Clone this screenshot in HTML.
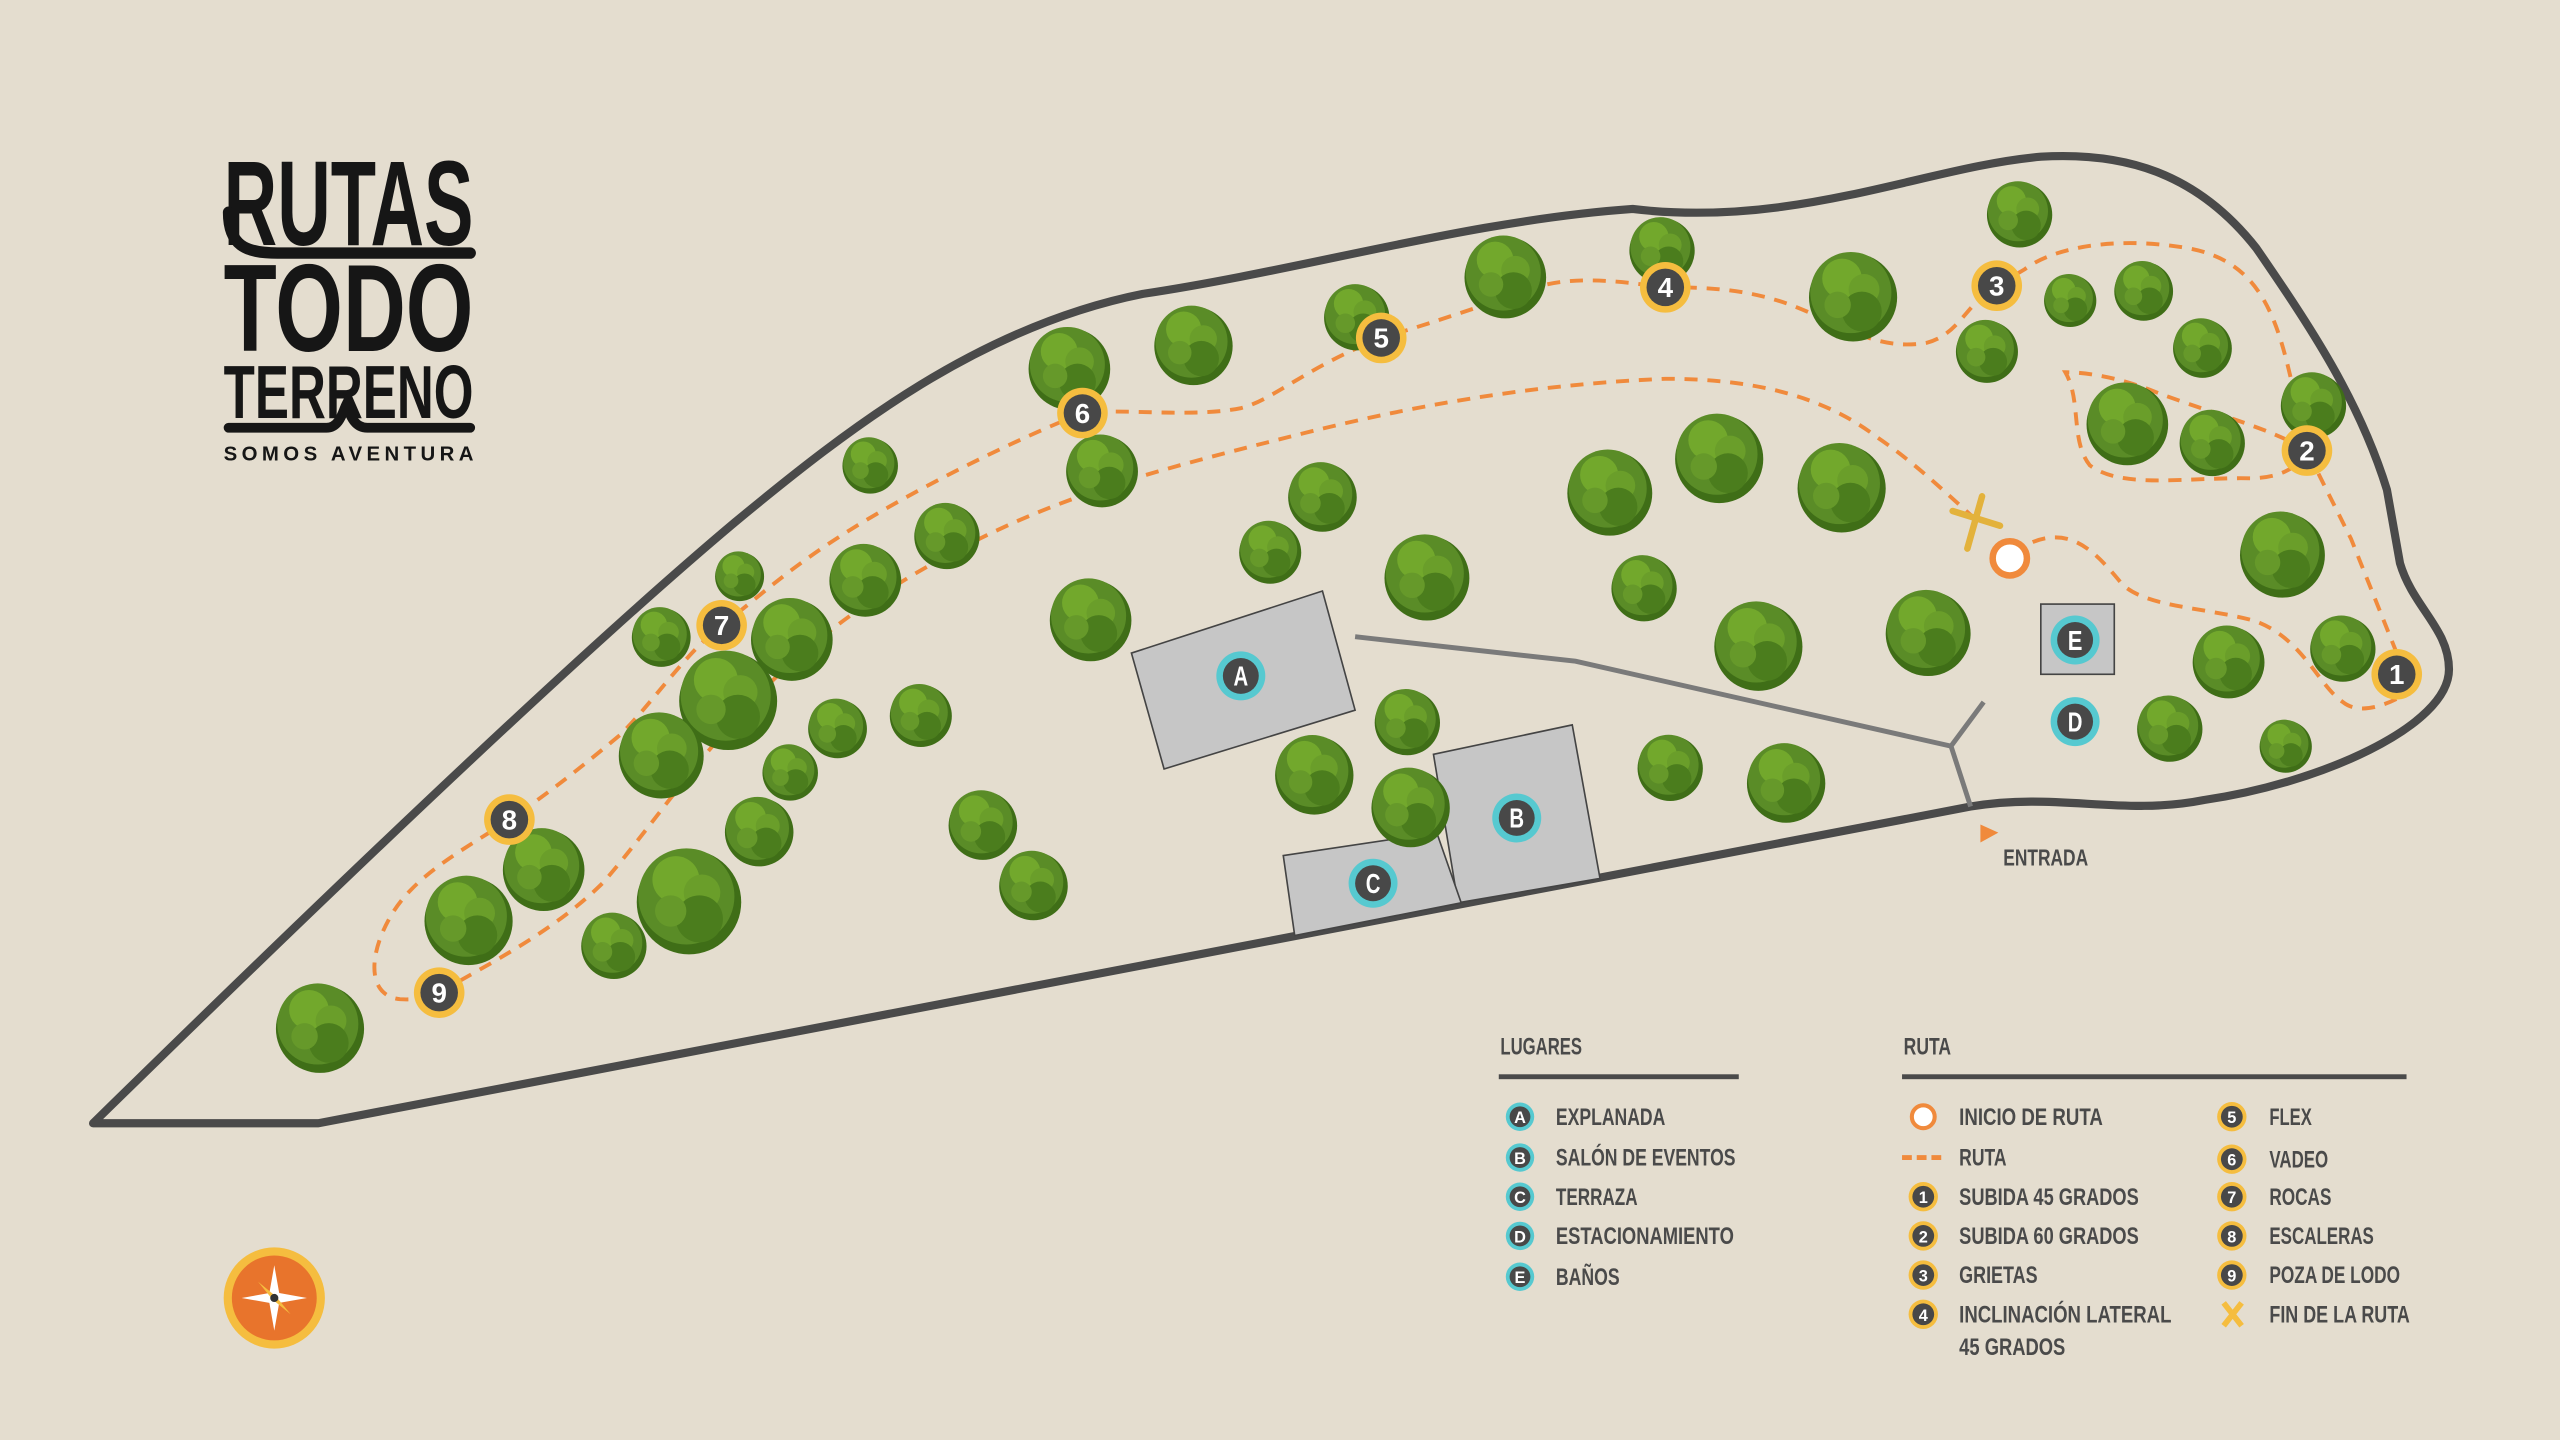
<!DOCTYPE html>
<html><head><meta charset="utf-8"><style>
html,body{margin:0;padding:0;background:#e4ddcf;}
svg{display:block}
text{font-family:"Liberation Sans Narrow","Liberation Sans",sans-serif;font-weight:bold;}
</style></head><body>
<svg width="2560" height="1440" viewBox="0 0 1568 882" xmlns="http://www.w3.org/2000/svg">
<defs>
<g id="t">
<circle cx="0" cy="0.08" r="1" fill="#3f6e17"/>
<circle cx="-0.05" cy="-0.03" r="0.92" fill="#5a8c27"/>
<circle cx="-0.25" cy="-0.35" r="0.45" fill="#72a82c"/>
<circle cx="0.25" cy="-0.1" r="0.35" fill="#6a9e2a"/>
<circle cx="0.2" cy="0.4" r="0.45" fill="#4b7d1d"/>
<circle cx="-0.35" cy="0.25" r="0.3" fill="#66992a"/>
</g>
<g id="nm"><circle r="15.5" fill="#f5bd3f"/><circle r="11.5" fill="#484848"/></g>
<g id="lm"><circle r="15" fill="#56c9d0"/><circle r="11" fill="#484848"/></g>
</defs>
<rect width="1568" height="882" fill="#e4ddcf"/>

<path d="M57,688 L195,688 L1207,494 C1260,485 1300,500 1350,490 C1420,480 1500,445 1500,410 C1500,385 1478,372 1470,345 L1462,300 C1445,245 1415,200 1382,152 C1345,105 1300,93 1250,96 C1180,102 1100,140 1000,128 C900,135 800,165 700,180 C600,200 520,262 450,320 C400,362 300,450 57,688Z" fill="none" stroke="#4a4a4a" stroke-width="5" stroke-linejoin="round"/>
<path d="M830,390 L965,405 L1195,457 L1215,430 M1195,457 L1207,494" fill="none" stroke="#7a7a7a" stroke-width="3"/>

<g fill="#c6c6c6" stroke="#444" stroke-width="1">
<polygon points="693,400 810,362 830,435 713,471"/>
<polygon points="878,462 963,444 980,538 893,553"/>
<polygon points="786,524 880,510 895,553 793,573"/>
<rect x="1250" y="370" width="45" height="43"/>
</g>

<g fill="none" stroke="#f08a3c" stroke-width="2.4" stroke-dasharray="8,6">
<path d="M1245,332 C1270,322 1285,340 1300,358 C1315,372 1350,372 1380,380 C1410,390 1420,420 1435,430 C1445,438 1460,432 1468,428"/>
<path d="M1468,400 L1440,330 L1420,290 L1413,276 L1405,240 C1395,195 1385,160 1340,152 C1300,145 1260,150 1240,165 L1223,175 C1205,185 1200,205 1180,210 C1150,215 1130,200 1100,188 C1070,176 1040,176 1020,176 C990,172 960,168 935,178 C900,190 870,200 846,207 C800,225 780,245 760,250 C730,256 690,250 663,253 C620,270 560,300 520,325 C480,350 460,370 442,383 C420,400 400,430 380,450 C350,475 330,490 312,502 C285,520 255,535 240,560 C225,585 225,610 245,612 C260,613 265,608 269,608 C300,590 340,570 370,540 C400,505 430,460 470,420 C500,390 540,360 600,330 C660,300 720,285 800,265 C880,245 950,235 1020,232 C1080,232 1120,245 1150,268 C1175,285 1195,305 1210,318"/>
<path d="M1413,276 C1390,262 1360,255 1320,240 C1300,232 1280,228 1265,228 C1275,245 1268,270 1280,285 C1300,300 1340,292 1380,293 C1400,292 1408,285 1413,276"/>
</g>

<g>
<use href="#t" transform="translate(1237,130) scale(20)"/>
<use href="#t" transform="translate(1018,152) scale(20)"/>
<use href="#t" transform="translate(1135,180) scale(27)"/>
<use href="#t" transform="translate(1268,183) scale(16)"/>
<use href="#t" transform="translate(1313,177) scale(18)"/>
<use href="#t" transform="translate(1349,212) scale(18)"/>
<use href="#t" transform="translate(1217,214) scale(19)"/>
<use href="#t" transform="translate(1417,247) scale(20)"/>
<use href="#t" transform="translate(1303,258) scale(25)"/>
<use href="#t" transform="translate(1355,270) scale(20)"/>
<use href="#t" transform="translate(1398,338) scale(26)"/>
<use href="#t" transform="translate(1435,396) scale(20)"/>
<use href="#t" transform="translate(1365,404) scale(22)"/>
<use href="#t" transform="translate(1329,445) scale(20)"/>
<use href="#t" transform="translate(1400,456) scale(16)"/>
<use href="#t" transform="translate(922,168) scale(25)"/>
<use href="#t" transform="translate(831,193) scale(20)"/>
<use href="#t" transform="translate(731,210) scale(24)"/>
<use href="#t" transform="translate(655,224) scale(25)"/>
<use href="#t" transform="translate(675,287) scale(22)"/>
<use href="#t" transform="translate(533,284) scale(17)"/>
<use href="#t" transform="translate(810,303) scale(21)"/>
<use href="#t" transform="translate(778,337) scale(19)"/>
<use href="#t" transform="translate(874,352) scale(26)"/>
<use href="#t" transform="translate(986,300) scale(26)"/>
<use href="#t" transform="translate(1053,279) scale(27)"/>
<use href="#t" transform="translate(1128,297) scale(27)"/>
<use href="#t" transform="translate(1007,359) scale(20)"/>
<use href="#t" transform="translate(1181,386) scale(26)"/>
<use href="#t" transform="translate(1077,394) scale(27)"/>
<use href="#t" transform="translate(1023,469) scale(20)"/>
<use href="#t" transform="translate(1094,478) scale(24)"/>
<use href="#t" transform="translate(862,441) scale(20)"/>
<use href="#t" transform="translate(805,473) scale(24)"/>
<use href="#t" transform="translate(864,493) scale(24)"/>
<use href="#t" transform="translate(668,378) scale(25)"/>
<use href="#t" transform="translate(580,327) scale(20)"/>
<use href="#t" transform="translate(530,354) scale(22)"/>
<use href="#t" transform="translate(453,352) scale(15)"/>
<use href="#t" transform="translate(405,389) scale(18)"/>
<use href="#t" transform="translate(485,390) scale(25)"/>
<use href="#t" transform="translate(446,427) scale(30)"/>
<use href="#t" transform="translate(405,461) scale(26)"/>
<use href="#t" transform="translate(513,445) scale(18)"/>
<use href="#t" transform="translate(564,437) scale(19)"/>
<use href="#t" transform="translate(484,472) scale(17)"/>
<use href="#t" transform="translate(465,508) scale(21)"/>
<use href="#t" transform="translate(602,504) scale(21)"/>
<use href="#t" transform="translate(633,541) scale(21)"/>
<use href="#t" transform="translate(333,531) scale(25)"/>
<use href="#t" transform="translate(287,562) scale(27)"/>
<use href="#t" transform="translate(422,550) scale(32)"/>
<use href="#t" transform="translate(376,578) scale(20)"/>
<use href="#t" transform="translate(196,628) scale(27)"/>
</g>

<circle cx="1231" cy="342" r="10.5" fill="#fff" stroke="#f08a3c" stroke-width="4"/>
<path d="M1196,313 L1225,322 M1214,304 L1205,336" stroke="#e3b23c" stroke-width="4" stroke-linecap="round"/>

<g font-size="17" fill="#fff" text-anchor="middle">
<use href="#lm" x="760" y="414"/><text x="760" y="420" textLength="9" lengthAdjust="spacingAndGlyphs">A</text>
<use href="#lm" x="929" y="501"/><text x="929" y="507" textLength="9" lengthAdjust="spacingAndGlyphs">B</text>
<use href="#lm" x="841" y="541"/><text x="841" y="547" textLength="9" lengthAdjust="spacingAndGlyphs">C</text>
<use href="#lm" x="1271" y="442"/><text x="1271" y="448" textLength="9" lengthAdjust="spacingAndGlyphs">D</text>
<use href="#lm" x="1271" y="392"/><text x="1271" y="398" textLength="9" lengthAdjust="spacingAndGlyphs">E</text>
</g>
<g font-size="17" fill="#fff" text-anchor="middle">
<use href="#nm" x="1468" y="413"/><text x="1468" y="419">1</text>
<use href="#nm" x="1413" y="276"/><text x="1413" y="282">2</text>
<use href="#nm" x="1223" y="175"/><text x="1223" y="181">3</text>
<use href="#nm" x="1020" y="176"/><text x="1020" y="182">4</text>
<use href="#nm" x="846" y="207"/><text x="846" y="213">5</text>
<use href="#nm" x="663" y="253"/><text x="663" y="259">6</text>
<use href="#nm" x="442" y="383"/><text x="442" y="389">7</text>
<use href="#nm" x="312" y="502"/><text x="312" y="508">8</text>
<use href="#nm" x="269" y="608"/><text x="269" y="614">9</text>
</g>

<polygon points="1213,505 1224,510 1213,516" fill="#f08a3c"/>
<text x="1227" y="530" font-size="14" fill="#4a4a4a" textLength="52" lengthAdjust="spacingAndGlyphs">ENTRADA</text>

<g fill="#161616">
<text x="137" y="150" font-size="74" textLength="153" lengthAdjust="spacingAndGlyphs">RUTAS</text>
<path d="M140,130 C140,150 150,155 170,155 L288,155" fill="none" stroke="#161616" stroke-width="7" stroke-linecap="round"/>
<text x="137" y="215" font-size="76" textLength="153" lengthAdjust="spacingAndGlyphs">TODO</text>
<text x="137" y="256" font-size="46" textLength="153" lengthAdjust="spacingAndGlyphs">TERRENO</text>
<path d="M140,262 L200,262 C208,262 210,252 212,248 C214,252 216,262 225,262 L288,262" fill="none" stroke="#161616" stroke-width="6" stroke-linecap="round"/>
<text x="137" y="282" font-size="12.5" textLength="153" font-family="Liberation Sans,sans-serif">SOMOS AVENTURA</text>
</g>

<g fill="#4a4a4a" font-size="15">
<text x="919" y="646" textLength="50" lengthAdjust="spacingAndGlyphs">LUGARES</text>
<rect x="918" y="658" width="147" height="3" fill="#4a4a4a"/>
<text x="1166" y="646" textLength="29" lengthAdjust="spacingAndGlyphs">RUTA</text>
<rect x="1165" y="658" width="309" height="3" fill="#4a4a4a"/>
</g>
<g font-size="10" fill="#fff" text-anchor="middle">
<g transform="translate(931,684) scale(0.58)"><use href="#lm"/></g><text x="931" y="688">A</text>
<g transform="translate(931,709) scale(0.58)"><use href="#lm"/></g><text x="931" y="713">B</text>
<g transform="translate(931,733) scale(0.58)"><use href="#lm"/></g><text x="931" y="737">C</text>
<g transform="translate(931,757) scale(0.58)"><use href="#lm"/></g><text x="931" y="761">D</text>
<g transform="translate(931,782) scale(0.58)"><use href="#lm"/></g><text x="931" y="786">E</text>
<g transform="translate(1178,733) scale(0.58)"><use href="#nm"/></g><text x="1178" y="737">1</text>
<g transform="translate(1178,757) scale(0.58)"><use href="#nm"/></g><text x="1178" y="761">2</text>
<g transform="translate(1178,781) scale(0.58)"><use href="#nm"/></g><text x="1178" y="785">3</text>
<g transform="translate(1178,805) scale(0.58)"><use href="#nm"/></g><text x="1178" y="809">4</text>
<g transform="translate(1367,684) scale(0.58)"><use href="#nm"/></g><text x="1367" y="688">5</text>
<g transform="translate(1367,710) scale(0.58)"><use href="#nm"/></g><text x="1367" y="714">6</text>
<g transform="translate(1367,733) scale(0.58)"><use href="#nm"/></g><text x="1367" y="737">7</text>
<g transform="translate(1367,757) scale(0.58)"><use href="#nm"/></g><text x="1367" y="761">8</text>
<g transform="translate(1367,781) scale(0.58)"><use href="#nm"/></g><text x="1367" y="785">9</text>
</g>
<circle cx="1178" cy="684" r="7" fill="#fff" stroke="#f08a3c" stroke-width="2.5"/>
<path d="M1165,709 L1191,709" stroke="#f08a3c" stroke-width="3" stroke-dasharray="6,3"/>
<path d="M1362,798 L1373,812 M1373,798 L1362,812" stroke="#f5bd3f" stroke-width="3.5"/>
<g fill="#4a4a4a" font-size="15" lengthAdjust="spacingAndGlyphs">
<text x="953" y="689" textLength="67" lengthAdjust="spacingAndGlyphs">EXPLANADA</text>
<text x="953" y="714" textLength="110" lengthAdjust="spacingAndGlyphs">SALÓN DE EVENTOS</text>
<text x="953" y="738" textLength="50" lengthAdjust="spacingAndGlyphs">TERRAZA</text>
<text x="953" y="762" textLength="109" lengthAdjust="spacingAndGlyphs">ESTACIONAMIENTO</text>
<text x="953" y="787" textLength="39" lengthAdjust="spacingAndGlyphs">BAÑOS</text>
<text x="1200" y="689" textLength="88" lengthAdjust="spacingAndGlyphs">INICIO DE RUTA</text>
<text x="1200" y="714" textLength="29" lengthAdjust="spacingAndGlyphs">RUTA</text>
<text x="1200" y="738" textLength="110" lengthAdjust="spacingAndGlyphs">SUBIDA 45 GRADOS</text>
<text x="1200" y="762" textLength="110" lengthAdjust="spacingAndGlyphs">SUBIDA 60 GRADOS</text>
<text x="1200" y="786" textLength="48" lengthAdjust="spacingAndGlyphs">GRIETAS</text>
<text x="1200" y="810" textLength="130" lengthAdjust="spacingAndGlyphs">INCLINACIÓN LATERAL</text>
<text x="1200" y="830" textLength="65" lengthAdjust="spacingAndGlyphs">45 GRADOS</text>
<text x="1390" y="689" textLength="26" lengthAdjust="spacingAndGlyphs">FLEX</text>
<text x="1390" y="715" textLength="36" lengthAdjust="spacingAndGlyphs">VADEO</text>
<text x="1390" y="738" textLength="38" lengthAdjust="spacingAndGlyphs">ROCAS</text>
<text x="1390" y="762" textLength="64" lengthAdjust="spacingAndGlyphs">ESCALERAS</text>
<text x="1390" y="786" textLength="80" lengthAdjust="spacingAndGlyphs">POZA DE LODO</text>
<text x="1390" y="810" textLength="86" lengthAdjust="spacingAndGlyphs">FIN DE LA RUTA</text>
</g>

<circle cx="168" cy="795" r="31" fill="#f5bd3f"/>
<circle cx="168" cy="795" r="26" fill="#e8742c"/>
<polygon points="168,775 171,792 188,795 171,798 168,815 165,798 148,795 165,792" fill="#fff"/>
<polygon points="158,785 169,794 178,805 167,796" fill="#f5bd3f"/>
<circle cx="168" cy="795" r="2.5" fill="#333"/>
</svg>
</body></html>
